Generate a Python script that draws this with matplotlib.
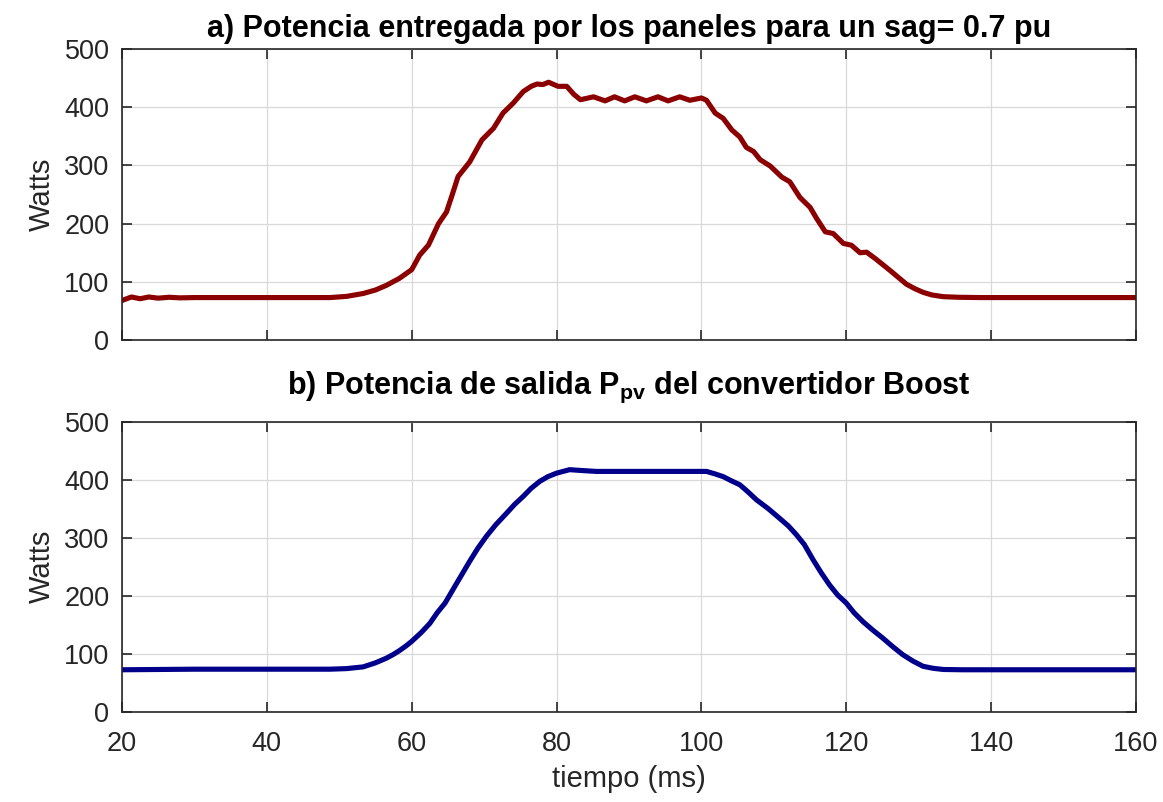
import numpy as np
import matplotlib
matplotlib.use("Agg")
import matplotlib.pyplot as plt

plt.rcParams['font.family'] = ['Liberation Sans', 'DejaVu Sans']
plt.rcParams['mathtext.fontset'] = 'custom'
plt.rcParams['mathtext.rm'] = 'Liberation Sans'
plt.rcParams['mathtext.bf'] = 'Liberation Sans:bold'

# a) potencia entregada por los paneles (ms, W)
t_pan = [20, 21.3, 22.5, 23.7, 25, 26.5, 28, 30, 35, 40, 45, 48.7, 51, 53.3, 55, 56.5,
         58.3, 60, 61.1, 62.3, 63.7, 64.8, 65.6, 66.4, 68.0, 69.7, 71.3, 72.6, 74.0, 75.4,
         76.5, 77.3, 78.1, 78.9, 80.2, 81.4, 82.4, 83.3, 85.1, 86.7, 88.0, 89.4, 90.8, 92.4,
         94.0, 95.4, 97.0, 98.4, 100.0, 100.7, 101.9, 103, 104.2, 105.3, 106.2, 107.2,
         108.1, 109.5, 111.1, 112.2, 113.6, 115.0, 115.9, 117.1, 118.2, 119.6, 120.7,
         121.9, 122.8, 124, 126, 128.3, 129.5, 130.6, 131.8, 133.4, 135.5, 138.5, 150, 160]
p_pan = [68, 74, 71, 74, 72, 73.5, 72.5, 73, 73, 73, 73, 73, 75, 80, 86, 94,
         106, 121, 146, 163, 200, 220, 250, 281, 306, 344, 364, 390, 407, 427,
         436, 440, 439, 443, 436, 436, 422, 413, 418, 411, 418, 411, 418, 411,
         418, 411, 418, 412, 416, 412, 390, 381, 361, 349, 331, 324,
         310, 299, 280, 272, 245, 228, 209, 186, 183, 166, 163,
         150, 151, 140, 120, 96, 88, 82, 77.5, 74.5, 73.5, 73, 73, 73]

# b) potencia de salida del convertidor Boost
t_pv = [20, 30, 40, 48.7, 51, 53.3, 55, 56.5, 57.4, 58.3, 59.2, 60, 61.3, 62.5, 63.5,
        64.6, 66.2, 67.1, 68.0, 69.1, 70.3, 71.6, 73.1, 74.2, 75.4, 76.5, 77.7, 78.8,
        80, 81.8, 83.5, 85.5, 90, 94.7, 100.7, 101.8, 103, 104.1, 105.3, 106.4, 107.6,
        109.2, 110.8, 112, 113.1, 114.2, 115.4, 116.5, 117.7, 118.8, 120, 121.1, 122.3,
        123.6, 125, 126.4, 127.8, 129.2, 130.6, 132, 133.4, 136, 140, 160]
p_pv = [72, 73, 73, 73, 74, 77, 84, 92, 98, 105, 113, 121, 136, 152, 170,
        187, 221, 240, 259, 281, 302, 322, 342, 357, 371, 385, 397, 405,
        411, 417, 415.5, 414, 414, 414, 414, 410, 405, 398, 391, 379, 365,
        350, 333, 320, 305, 288, 262, 240, 218, 201, 187, 170, 155,
        141, 127, 112, 98, 87, 78, 74.5, 72.5, 72, 72, 72]

fig = plt.figure(figsize=(11.63, 8.02), dpi=100)
ax1 = fig.add_axes([0.1049, 0.576, 0.8719, 0.3628])
ax2 = fig.add_axes([0.1049, 0.1128, 0.8719, 0.3616])

ax1.plot(t_pan, p_pan, color='#8B0000', lw=3.7, solid_joinstyle='round')
ax2.plot(t_pv, p_pv, color='#00008B', lw=3.7, solid_joinstyle='round')

for ax in (ax1, ax2):
    ax.set_xlim(20, 160)
    ax.set_ylim(0, 500)
    ax.set_xticks(np.arange(20, 161, 20))
    ax.set_yticks(np.arange(0, 501, 100))
    ax.grid(True, color='#d9d9d9', lw=0.9)
    ax.set_axisbelow(True)
    ax.tick_params(direction='in', length=7, width=1.2, top=True, right=True,
                   labelsize=19.5, colors='#262626', pad=9)
    ax.tick_params(axis='x', pad=14)
    for s in ax.spines.values():
        s.set_color('#262626')
        s.set_linewidth(1.2)
    ax.set_ylabel('Watts', fontsize=21, color='#262626', labelpad=6)

ax1.tick_params(labelbottom=False)
ax1.set_title('a) Potencia entregada por los paneles para un sag= 0.7 pu',
              fontsize=22, fontweight='bold', pad=9)
ax2.set_title(r'b) Potencia de salida $\mathbf{P_{pv}}$ del convertidor Boost',
              fontsize=22, fontweight='bold', pad=20)
ax2.set_xlabel('tiempo (ms)', fontsize=21, color='#262626', labelpad=6)

fig.savefig('out.png', dpi=100)
